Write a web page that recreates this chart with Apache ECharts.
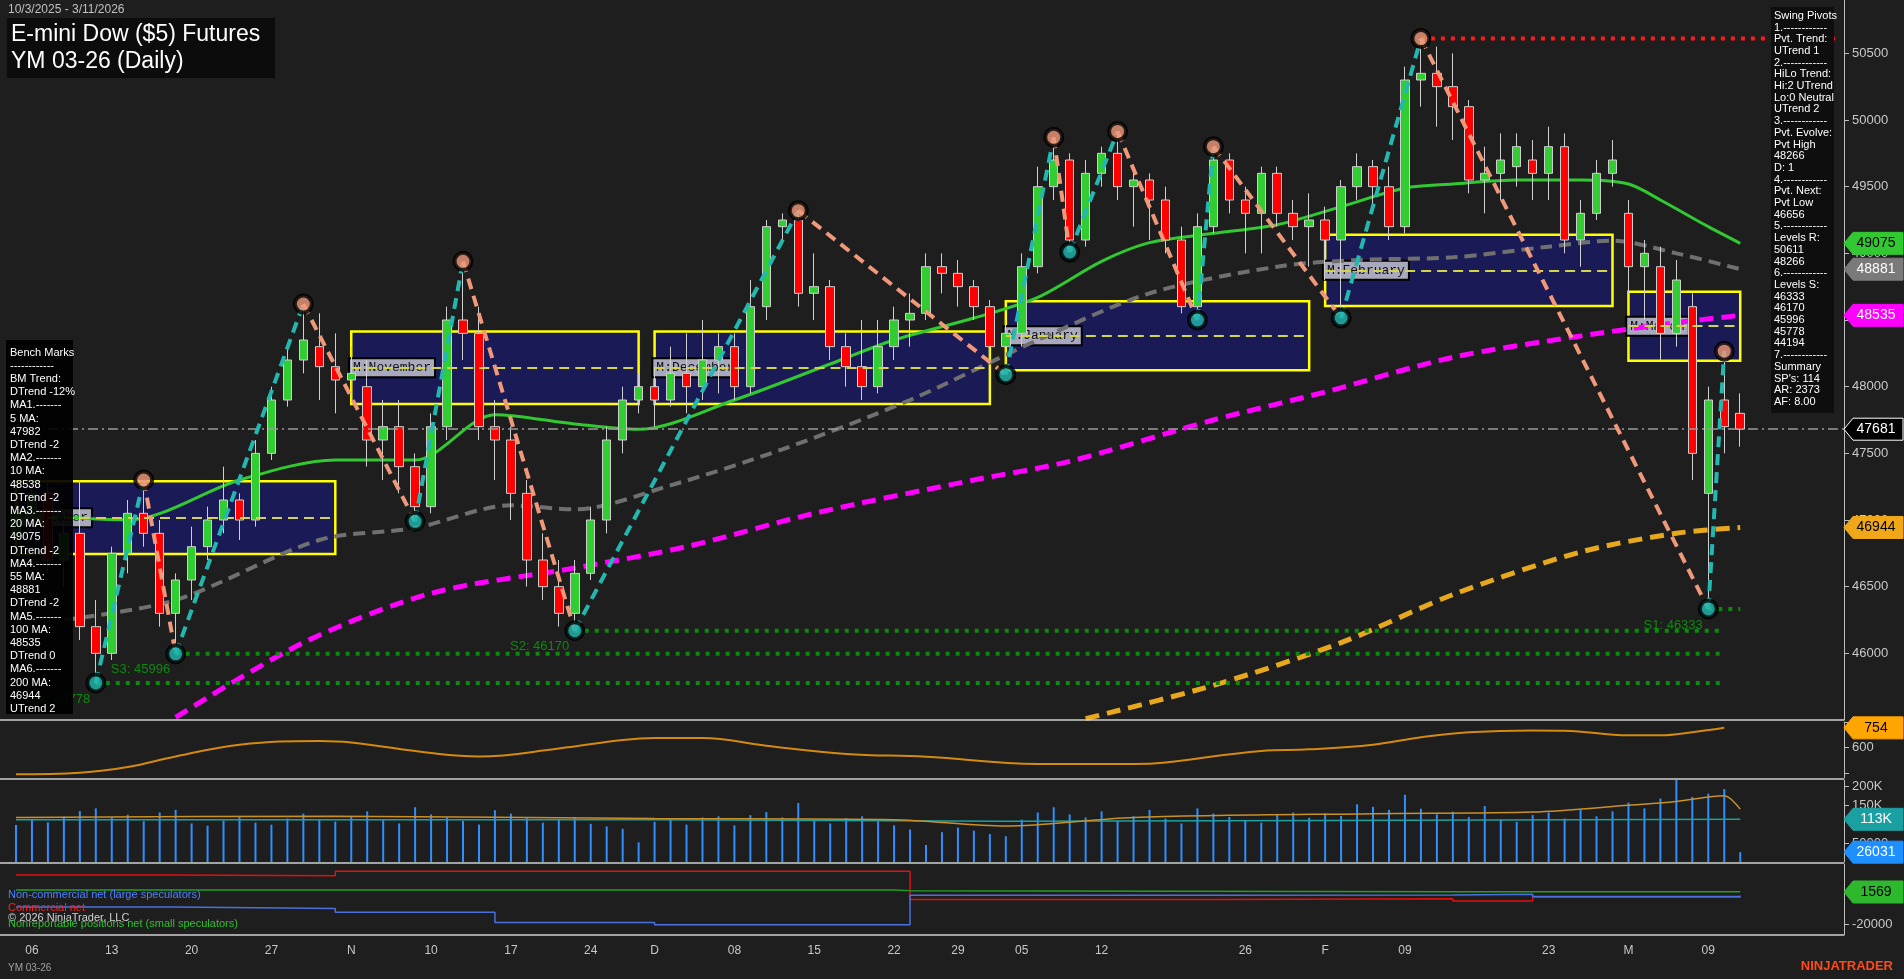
<!DOCTYPE html>
<html>
<head>
<meta charset="utf-8">
<script src="https://cdn.jsdelivr.net/npm/echarts@6/dist/echarts.min.js"></script>
<style>
  html, body { margin: 0; padding: 0; background: #1e1e1e; }
  #chart { width: 1904px; height: 979px; }
</style>
</head>
<body>
<div id="chart"></div>
<script>
// trading days 10/3/2025 - 3/11/2026 (holidays skipped)
const dates = [
  '10/3','10/6','10/7','10/8','10/9','10/10','10/13','10/14','10/15','10/16','10/17',
  '10/20','10/21','10/22','10/23','10/24','10/27','10/28','10/29','10/30','10/31',
  '11/3','11/4','11/5','11/6','11/7','11/10','11/11','11/12','11/13','11/14',
  '11/17','11/18','11/19','11/20','11/21','11/24','11/25','11/26','11/28',
  '12/1','12/2','12/3','12/4','12/5','12/8','12/9','12/10','12/11','12/12',
  '12/15','12/16','12/17','12/18','12/19','12/22','12/23','12/24','12/26','12/29','12/30','12/31',
  '1/2','1/5','1/6','1/7','1/8','1/9','1/12','1/13','1/14','1/15','1/16',
  '1/20','1/21','1/22','1/23','1/26','1/27','1/28','1/29','1/30',
  '2/2','2/3','2/4','2/5','2/6','2/9','2/10','2/11','2/12','2/13',
  '2/17','2/18','2/19','2/20','2/23','2/24','2/25','2/26','2/27',
  '3/2','3/3','3/4','3/5','3/6','3/9','3/10','3/11',
  '', '', '', '', '', ''
];
const dateLabels = {
  '10/6':'06','10/13':'13','10/20':'20','10/27':'27','11/3':'N','11/10':'10','11/17':'17','11/24':'24',
  '12/1':'D','12/8':'08','12/15':'15','12/22':'22','12/29':'29','1/5':'05','1/12':'12','1/26':'26',
  '2/2':'F','2/9':'09','2/23':'23','3/2':'M','3/9':'09'
};

// [open, close, low, high]
const ohlc = [
  [46900,47050,46800,47150],[47050,47200,46950,47300],[47200,46700,46600,47280],[46700,46900,46500,47000],
  [46900,46200,46100,47300],[46200,46000,45778,46400],[46000,46750,45950,46800],[46750,47050,46600,47150],
  [47050,46900,46800,47300],[46900,46300,46200,47000],[46300,46550,45996,46600],[46550,46800,46400,46950],
  [46800,47000,46700,47100],[47000,47150,46900,47400],[47150,47000,46850,47200],[47000,47500,46950,47600],
  [47500,47900,47450,48000],[47900,48200,47850,48300],[48200,48350,48100,48620],[48300,48150,47900,48550],
  [48150,48050,47800,48400],[48050,48100,47900,48300],[48000,47600,47400,48200],[47600,47700,47300,47900],
  [47700,47400,47200,47900],[47400,47100,46990,47500],[47100,47700,47050,47800],[47700,48500,47600,48600],
  [48500,48400,48200,48940],[48400,47700,47600,48600],[47700,47600,47300,47900],[47600,47200,47000,47700],
  [47200,46700,46500,47300],[46700,46500,46400,46900],[46500,46300,46200,46700],[46300,46600,46170,46700],
  [46600,47000,46550,47100],[47000,47600,46900,47700],[47600,47900,47500,48000],[47900,48000,47800,48100],
  [48000,47900,47700,48150],[47900,48100,47850,48300],[48100,48000,47800,48400],[48000,48200,47900,48500],
  [48200,48300,47950,48400],[48300,48000,47900,48400],[48000,48600,47950,48800],[48600,49200,48500,49250],
  [49200,49250,49100,49300],[49250,48700,48600,49320],[48700,48750,48500,49000],[48750,48300,48200,48800],
  [48300,48150,48000,48400],[48150,48000,47900,48500],[48000,48300,47950,48500],[48300,48500,48200,48600],
  [48500,48550,48300,48700],[48550,48900,48500,49000],[48900,48850,48700,49000],[48850,48750,48600,48950],
  [48750,48600,48500,48800],[48600,48300,48200,48650],[48300,48400,48090,48500],[48400,48900,48300,49000],
  [48900,49500,48850,49650],[49500,49700,49400,49870],[49700,49100,49010,49750],[49100,49600,49050,49700],
  [49600,49750,49500,49800],[49750,49500,49400,49914],[49500,49550,49200,49650],[49550,49400,49100,49600],
  [49400,49100,49000,49500],[49100,48600,48550,49200],[48600,49200,48500,49300],[49200,49700,49150,49800],
  [49700,49400,49300,49750],[49400,49300,49000,49500],[49300,49600,49000,49650],[49600,49300,49200,49650],
  [49300,49200,49100,49400],[49200,49250,48900,49450],[49250,49100,48800,49350],[49100,49500,48515,49550],
  [49500,49650,49400,49750],[49650,49500,49300,49700],[49500,49200,49100,49650],[49200,50300,49150,50400],
  [50300,50350,50100,50611],[50350,50250,49950,50550],[50250,50100,49850,50500],[50100,49550,49450,50150],
  [49550,49600,49300,49800],[49600,49700,49400,49900],[49650,49800,49500,49900],[49700,49600,49400,49850],
  [49600,49800,49400,49950],[49800,49100,49000,49900],[49100,49300,48900,49400],[49300,49600,49250,49700],
  [49600,49700,49500,49850],[49300,48900,48700,49400],[48900,49000,48500,49100],[48900,48400,48200,49050],
  [48400,48800,48300,48950],[48600,47500,47300,48700],[47200,47900,46333,48000],[47900,47700,47500,48266],
  [47800,47681,47550,47950]
];

// moving averages, [bar index, value] read at points along each line
const ma20 = [[0,47050],[7,47000],[14,47300],[20,47450],[25,47450],[30,47790],[35,47720],[39,47680],[45,47900],
  [51,48170],[55,48350],[60,48515],[64,48670],[68,48940],[71,49080],[75,49150],[79,49215],[83,49350],[87,49490],
  [90,49520],[94,49550],[98,49550],[101,49520],[103,49400],[106,49200],[108,49075]];
const ma55 = [[3,46250],[10,46400],[19,46850],[25,46940],[31,47110],[35,47080],[41,47260],[48,47530],[56,47900],
  [64,48350],[71,48700],[79,48900],[84,48950],[90,48970],[96,49050],[100,49095],[104,49000],[108,48881]];
const ma100 = [[10,45520],[18,46080],[26,46450],[35,46640],[42,46800],[50,47050],[60,47300],[66,47440],[75,47750],
  [82,47960],[90,48220],[98,48380],[104,48480],[108,48535]];
const ma200 = [[67,45510],[75,45760],[83,46080],[90,46440],[98,46760],[104,46900],[108,46944]];

// swing pivots [bar index, price]
const pivots = [[5,45778],[8,47300],[10,45996],[18,48620],[25,46990],[28,48940],[35,46170],[49,49320],[62,48090],
  [65,49870],[66,49010],[69,49914],[74,48500],[75,49800],[83,48515],[88,50611],[106,46333],[107,48266]];

// monthly boxes: name, from idx, to idx, top, bottom, mid
const boxNames = ['M:October','M:November','M:December','M:January','M:February','M:March'];
const boxFrom = [0,21,40,62,82,101];
const boxTo = [20,39,61,81,100,108];
const boxTop = [47290,48414,48414,48640,49140,48712];
const boxBot = [46745,47870,47870,48124,48605,48194];
const boxMid = [47015,48140,48140,48380,48870,48460];

// levels
const levelR1 = 50611;
const levelS = [46333,46170,45996,45778];
const levelSFrom = [106,35,10,5];
const levelSNames = ['S1: 46333','S2: 46170','S3: 45996','S4: 45778'];
const lastPrice = 47681;

// sub panes
const atr = [[0,390],[4,402],[7,446],[10,529],[14,622],[19,651],[21,639],[26,556],[29,529],[34,592],[38,659],
  [40,675],[43,675],[47,614],[52,549],[57,527],[64,470],[70,470],[72,482],[78,573],[81,585],[85,622],[88,680],
  [91,719],[95,734],[97,732],[101,695],[103,695],[105,719],[107,754]];
const volumeK = [98,112,105,120,135,142,118,125,108,131,138,102,96,110,122,104,99,115,128,113,107,
  121,134,111,102,145,126,118,109,99,137,128,116,104,112,119,101,94,88,52,
  106,113,99,118,121,97,124,132,118,156,109,102,116,121,108,97,86,45,79,91,83,74,
  68,112,131,145,126,118,134,109,121,138,115,102,142,128,119,111,104,125,131,117,
  129,122,153,146,138,178,141,126,133,119,148,112,106,124,131,115,138,121,134,
  157,142,168,236,172,181,193,26.031];
const volAvgK = [[0,118],[20,121],[40,115],[55,112],[62,95],[70,118],[85,128],[95,132],[101,150],[104,160],[107,175],[108,140]];
const volAvg2K = [[0,112],[40,112],[62,108],[108,113]];
const cotRed = [[0,13000],[10,12500],[20,15500],[55,15500],[56,-3500],[75,-3000],[90,-4500],[95,-2000],[108,-2500]];
const cotBlue = [[0,-8500],[10,-9500],[20,-12000],[30,-19000],[40,-20500],[55,-20500],[56,-600],[75,-500],[90,0],[95,-1500],[108,-800]];
const cotGreen = [[0,3000],[20,3000],[55,2500],[56,1800],[90,1800],[108,1569]];

const benchText = ['Bench Marks','------------','BM Trend:','DTrend -12%','MA1.-------','5 MA:','47982','DTrend -2',
  'MA2.-------','10 MA:','48538','DTrend -2','MA3.-------','20 MA:','49075','DTrend -2','MA4.-------','55 MA:',
  '48881','DTrend -2','MA5.-------','100 MA:','48535','DTrend 0','MA6.-------','200 MA:','46944','UTrend 2'];
const swingText = ['Swing Pivots','1.------------','Pvt. Trend:','UTrend 1','2.------------','HiLo Trend:',
  'Hi:2 UTrend','Lo:0 Neutral','UTrend 2','3.------------','Pvt. Evolve:','Pvt High','48266','D: 1',
  '4.------------','Pvt. Next:','Pvt Low','46656','5.------------','Levels R:','50611','48266','6.------------',
  'Levels S:','46333','46170','45996','45778','44194','7.------------','Summary',"SP's: 114",'AR: 2373','AF: 8.00'];

const FONT = 'Liberation Sans';
const myChart = echarts.init(document.getElementById('chart'));

const grids = [
  { left: 8, right: 60, top: 0, height: 720 },
  { left: 8, right: 60, top: 722, height: 56 },
  { left: 8, right: 60, top: 780, height: 82 },
  { left: 8, right: 60, top: 864, height: 71 }
];
const xAxes = grids.map((g, i) => ({
  type: 'category', gridIndex: i, data: dates, boundaryGap: true,
  axisLine: { show: false }, axisTick: { show: false }, splitLine: { show: false },
  axisLabel: i === 3 ? {
    show: true, color: '#c8c8c8', fontSize: 12, fontFamily: FONT, margin: 10,
    interval: (idx, v) => !!dateLabels[v], formatter: v => dateLabels[v] || ''
  } : { show: false }
}));
const yBase = {
  position: 'right', axisLine: { show: true, lineStyle: { color: '#bdbdbd' } },
  axisTick: { show: true, length: 5, lineStyle: { color: '#bdbdbd' } }, splitLine: { show: false },
  axisLabel: { color: '#c8c8c8', fontSize: 13, fontFamily: FONT, margin: 8, formatter: v => String(v) }
};
const yAxes = [
  Object.assign({}, yBase, { gridIndex: 0, min: 45500, max: 50900, interval: 500,
    axisLabel: Object.assign({}, yBase.axisLabel, { showMinLabel: false, showMaxLabel: false }) }),
  Object.assign({}, yBase, { gridIndex: 1, min: 360, max: 800,
    axisLabel: Object.assign({}, yBase.axisLabel, { customValues: [600] }), axisTick: Object.assign({}, yBase.axisTick, { customValues: [400, 600, 800] }) }),
  Object.assign({}, yBase, { gridIndex: 2, min: 0, max: 217000,
    axisLabel: Object.assign({}, yBase.axisLabel, { customValues: [50000, 150000, 200000],
      formatter: v => v >= 100000 ? (v / 1000) + 'K' : String(v) }),
    axisTick: Object.assign({}, yBase.axisTick, { customValues: [50000, 150000, 200000] }) }),
  Object.assign({}, yBase, { gridIndex: 3, min: -27400, max: 20440,
    axisLabel: Object.assign({}, yBase.axisLabel, { customValues: [-20000] }),
    axisTick: Object.assign({}, yBase.axisTick, { customValues: [-20000] }) })
];

const series = [];

// monthly boxes behind everything
series.push({
  type: 'line', xAxisIndex: 0, yAxisIndex: 0, data: [], silent: true, z: 1,
  markArea: {
    silent: true,
    itemStyle: { color: 'rgba(26,26,90,0.95)', borderColor: '#ffff00', borderWidth: 2.5 },
    label: { show: true, position: 'insideLeft', distance: 0, fontFamily: 'Liberation Mono', fontSize: 13,
      color: '#111', backgroundColor: '#a9a9bd', borderColor: '#000', borderWidth: 2, padding: [2, 3] },
    data: boxNames.map((n, i) => [{ name: n, coord: [boxFrom[i], boxTop[i]] }, { coord: [boxTo[i], boxBot[i]] }])
  },
  markLine: {
    silent: true, symbol: 'none', label: { show: false },
    lineStyle: { color: '#d4d44a', type: [10, 6], width: 2 },
    data: boxNames.map((n, i) => [{ coord: [boxFrom[i], boxMid[i]] }, { coord: [boxTo[i], boxMid[i]] }])
  }
});

// current price line
series.push({
  type: 'line', xAxisIndex: 0, yAxisIndex: 0, data: [], z: 2,
  markLine: { silent: true, symbol: 'none', label: { show: false },
    lineStyle: { color: '#9a9a9a', type: [10, 4, 2, 4], width: 1.5 }, data: [{ yAxis: lastPrice }] }
});

// MAs
const maLine = (d, color, width, dash) => ({
  type: 'line', xAxisIndex: 0, yAxisIndex: 0, data: d, smooth: 0.3, showSymbol: false, z: 3,
  lineStyle: { color: color, width: width, type: dash || 'solid' }
});
series.push(maLine(ma200, '#e8a81e', 5, [14, 8]));
series.push(maLine(ma100, '#ff00ff', 5, [14, 8]));
series.push(maLine(ma55, '#707070', 4, [12, 7]));
series.push(maLine(ma20, '#32c832', 3));

// levels
series.push({
  type: 'line', xAxisIndex: 0, yAxisIndex: 0, showSymbol: false, z: 3,
  lineStyle: { color: '#ff1a1a', width: 4, type: [4, 6] },
  data: [{ value: [88, levelR1], label: { show: true, position: 'left', offset: [10, -18], formatter: 'R1: 50611',
    color: '#ff2020', fontSize: 13, fontFamily: FONT } }, [114, levelR1]],
  symbol: 'none'
});
levelS.forEach((v, i) => {
  series.push({
    type: 'line', xAxisIndex: 0, yAxisIndex: 0, symbol: 'none', z: 3,
    lineStyle: { color: '#0b8a0b', width: 4, type: [4, 6] },
    data: [{ value: [levelSFrom[i], v], symbol: 'circle', symbolSize: 1,
      label: { show: true, position: 'left', offset: [0, 16], formatter: levelSNames[i],
        color: '#0b8a0b', fontSize: 13, fontFamily: FONT } }, [i === 0 ? 108 : 107, v]]
  });
});

// candles
series.push({
  type: 'candlestick', xAxisIndex: 0, yAxisIndex: 0, data: ohlc, barWidth: 9, z: 4,
  itemStyle: { color: '#32cd32', color0: '#ff0000', borderColor: '#cfcfcf', borderColor0: '#cfcfcf', borderWidth: 1 }
});

// zigzag legs
for (let i = 0; i < pivots.length - 1; i++) {
  const up = pivots[i + 1][1] > pivots[i][1];
  series.push({
    type: 'line', xAxisIndex: 0, yAxisIndex: 0, data: [pivots[i], pivots[i + 1]], showSymbol: false, z: 5,
    lineStyle: { color: up ? '#22b8b0' : '#f0987a', width: 4, type: [11, 7] }
  });
}
series.push({
  type: 'scatter', xAxisIndex: 0, yAxisIndex: 0, symbolSize: 17, z: 6,
  data: pivots.map((p, i) => {
    const isHigh = i > 0 ? p[1] > pivots[i - 1][1] : p[1] > pivots[i + 1][1];
    return { value: p, itemStyle: { color: isHigh ? '#f0987a' : '#22b8b0', borderColor: '#000', borderWidth: 4 } };
  })
});

// ATR pane
series.push({ type: 'line', xAxisIndex: 1, yAxisIndex: 1, data: atr, smooth: 0.4, showSymbol: false,
  lineStyle: { color: '#d48a10', width: 2 } });

// volume pane
series.push({ type: 'bar', xAxisIndex: 2, yAxisIndex: 2, data: volumeK.map(v => v * 1000), barWidth: 2,
  itemStyle: { color: '#2f8fff' } });
series.push({ type: 'line', xAxisIndex: 2, yAxisIndex: 2, data: volAvg2K.map(p => [p[0], p[1] * 1000]),
  smooth: 0.3, showSymbol: false, lineStyle: { color: '#1f9f9f', width: 1.5 } });
series.push({ type: 'line', xAxisIndex: 2, yAxisIndex: 2, data: volAvgK.map(p => [p[0], p[1] * 1000]),
  smooth: 0.3, showSymbol: false, lineStyle: { color: '#c8902a', width: 1.5 } });

// COT pane
[[cotRed, '#e01010'], [cotBlue, '#4a70e0'], [cotGreen, '#22a022']].forEach(c => {
  series.push({ type: 'line', xAxisIndex: 3, yAxisIndex: 3, data: c[0], step: 'end', showSymbol: false,
    lineStyle: { color: c[1], width: 1.5 } });
});

const option = {
  backgroundColor: '#1e1e1e',
  animation: false,
  grid: grids,
  xAxis: xAxes,
  yAxis: yAxes,
  series: series
};
myChart.setOption(option);

// overlays: panels, tags, separators
function tag(y, text, bg, fg, border) {
  const x0 = 1844;
  return [
    { type: 'polygon', z: 100, shape: { points: [[x0, y], [x0 + 9, y - 11], [1903, y - 11], [1903, y + 11], [x0 + 9, y + 11]] },
      style: { fill: bg, stroke: border || bg, lineWidth: 1 } },
    { type: 'text', z: 101, x: 1876, y: y, style: { text: text, fill: fg, font: '14px ' + FONT, align: 'center', verticalAlign: 'middle' } }
  ];
}
const py = (axis, v) => myChart.convertToPixel({ yAxisIndex: axis }, v);
const g = [];
[720, 779, 863, 935].forEach(y => g.push({ type: 'line', z: 50, shape: { x1: 0, y1: y, x2: 1844, y2: y },
  style: { stroke: '#d0d0d0', lineWidth: 1.5 } }));
g.push({ type: 'text', z: 60, x: 8, y: 4, style: { text: '10/3/2025 - 3/11/2026', fill: '#c0c0c0', font: '12px ' + FONT } });
g.push({ type: 'rect', z: 60, shape: { x: 7, y: 18, width: 268, height: 60 }, style: { fill: '#0c0c0c' } });
g.push({ type: 'text', z: 61, x: 11, y: 21, style: { text: 'E-mini Dow ($5) Futures\nYM 03-26 (Daily)', fill: '#ffffff',
  font: '23px ' + FONT, lineHeight: 27 } });
g.push({ type: 'rect', z: 60, shape: { x: 6, y: 340, width: 67, height: 374 }, style: { fill: 'rgba(0,0,0,0.92)' } });
g.push({ type: 'text', z: 61, x: 10, y: 346, style: { text: benchText.join('\n'), fill: '#ffffff', font: '11px ' + FONT, lineHeight: 13.2 } });
g.push({ type: 'rect', z: 60, shape: { x: 1771, y: 7, width: 63, height: 406 }, style: { fill: '#0e0e0e' } });
g.push({ type: 'text', z: 61, x: 1774, y: 10, style: { text: swingText.join('\n'), fill: '#ffffff', font: '11px ' + FONT, lineHeight: 11.7 } });
g.push({ type: 'text', z: 61, x: 8, y: 889, style: { text: 'Non-commercial net (large speculators)', fill: '#4a80ff', font: '11px ' + FONT } });
g.push({ type: 'text', z: 61, x: 8, y: 902, style: { text: 'Commercial net', fill: '#ff2020', font: '11px ' + FONT } });
g.push({ type: 'text', z: 61, x: 8, y: 912, style: { text: '\u00a9 2026 NinjaTrader, LLC', fill: '#d0d0d0', font: '11px ' + FONT } });
g.push({ type: 'text', z: 62, x: 8, y: 918, style: { text: 'Nonreportable positions net (small speculators)', fill: '#30c030', font: '11px ' + FONT } });
g.push({ type: 'text', z: 61, x: 8, y: 963, style: { text: 'YM 03-26', fill: '#a0a0a0', font: '10px ' + FONT } });
g.push({ type: 'text', z: 61, x: 1893, y: 960, style: { text: 'NINJATRADER', fill: '#ff4a1a', font: 'bold 13px ' + FONT, align: 'right' } });
tag(py(0, 49075), '49075', '#32c832', '#000').forEach(e => g.push(e));
tag(py(0, 48881), '48881', '#7a7a7a', '#fff').forEach(e => g.push(e));
tag(py(0, 48535), '48535', '#ff00ff', '#fff').forEach(e => g.push(e));
tag(py(0, lastPrice), '47681', '#000', '#fff', '#fff').forEach(e => g.push(e));
tag(py(0, 46944), '46944', '#f0a818', '#000').forEach(e => g.push(e));
tag(py(1, 754), '754', '#ffa500', '#000').forEach(e => g.push(e));
tag(py(2, 113000), '113K', '#1aa0a0', '#fff').forEach(e => g.push(e));
tag(py(2, 26031), '26031', '#1e8fff', '#fff').forEach(e => g.push(e));
tag(py(3, 1569), '1569', '#2eb82e', '#000').forEach(e => g.push(e));
myChart.setOption({ graphic: { elements: g } });

window.addEventListener('resize', function () {
  myChart && myChart.resize();
});
</script>
</body>
</html>
